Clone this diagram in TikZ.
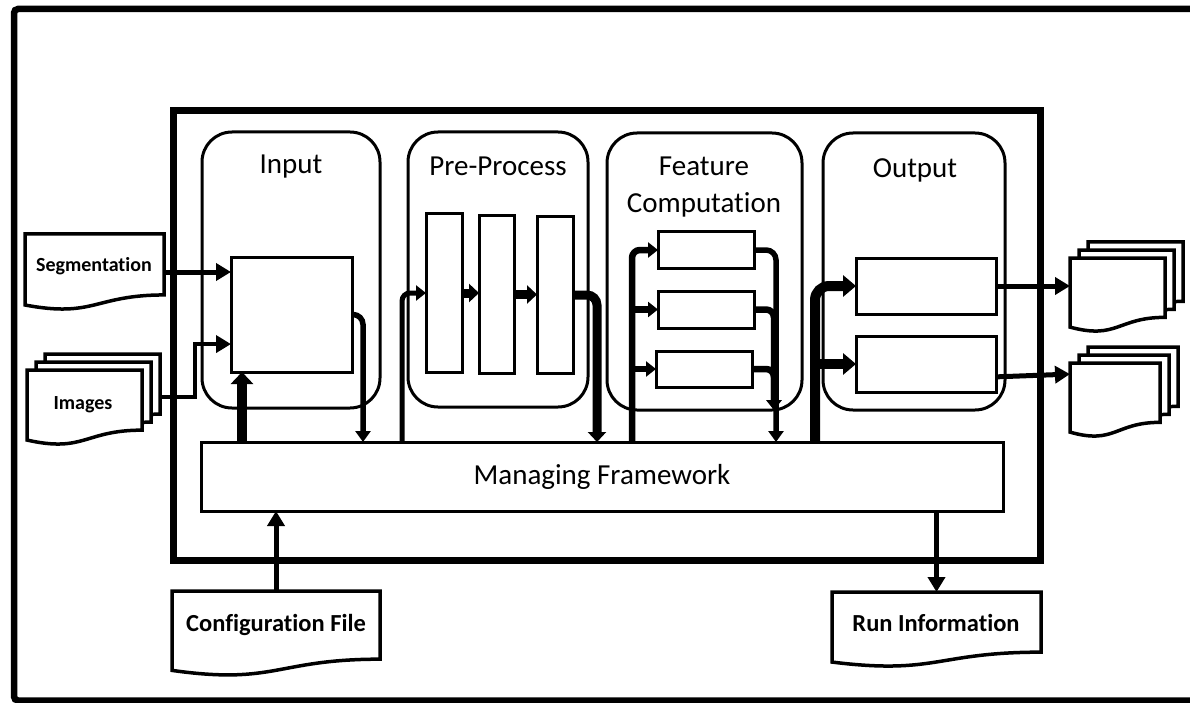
\documentclass[tikz,border=0pt]{standalone}
\usepackage{fontspec}
\setmainfont{Carlito}[Ligatures={NoCommon,NoRequired,NoContextual}]
\usetikzlibrary{arrows.meta,calc}
\newcommand\docshape[1]{%
  \path[docline] (#1.north west) -- (#1.north east)
    -- ($(#1.north east)!0.802!(#1.south east)$)
    .. controls ($(#1.north)!0.802!(#1.south)$) and ($(#1.north)!1.107!(#1.south)$)
    .. ($(#1.north west)!0.934!(#1.south west)$) -- cycle;}
\tikzset{
  stage/.style={draw, line width=3pt, rounded corners=30pt, anchor=north west, inner sep=0pt, outer sep=0pt},
  blk/.style={draw, line width=3pt, fill=white, anchor=north west, inner sep=0pt, outer sep=0pt},
  docbox/.style={anchor=north west, inner sep=0pt, outer sep=0pt},
  docline/.style={draw, line width=3.5pt, fill=white, line join=miter},
  title/.style={font=\fontsize{29}{37}\selectfont, align=center, inner sep=0pt},
  doctext/.style={font=\bfseries\fontsize{20}{24}\selectfont, inner sep=0pt},
  bigtext/.style={font=\bfseries\fontsize{24.5}{28}\selectfont, inner sep=0pt},
  arr/.style={line width=5pt, -{Triangle[length=15pt,width=17pt]}},
  arrmid/.style={line width=5.5pt, -{Triangle[length=11pt,width=15pt]}},
  arrsm/.style={line width=5pt, -{Triangle[length=10pt,width=15pt]}},
  arrthick/.style={line width=9pt, -{Triangle[length=10pt,width=18pt]}},
  arrfc/.style={line width=6.5pt, -{Triangle[length=10pt,width=15pt]}},
  arrbig/.style={line width=10pt, -{Triangle[length=13pt,width=21pt]}},
  bigup/.style={line width=10pt, -{Triangle[length=12pt,width=22pt]}},
}
\begin{document}
\begin{tikzpicture}[x=1pt,y=-1pt]
\useasboundingbox (0,0) rectangle (1190,703);
% outer frame (right side off the picture)
\draw[line width=6.5pt, rounded corners=4pt] (1200,9) -- (14,9) -- (14,700.5) -- (1200,700.5);
% system frame
\node[draw, line width=7pt, anchor=north west, inner sep=0pt, outer sep=0pt,
      minimum width=867pt, minimum height=449pt] (sys) at (173,111) {};
% stages
\node[stage, minimum width=178pt, minimum height=276pt] (inp) at (202,132) {};
\node[stage, minimum width=180pt, minimum height=275pt] (pre) at (408,132) {};
\node[stage, minimum width=195pt, minimum height=277pt] (fcs) at (607,133) {};
\node[stage, minimum width=182pt, minimum height=277pt] (outs) at (823,133) {};
\node[title] (tin) at (291,167) {Input};
\node[title] (tpre) at (498,166) {Pre-Process};
\node[title] (tfc) at (704,187) {Feature\\Computation};
\node[title] (tout) at (915,170) {Output};
% managing framework
\node[blk, minimum width=802pt, minimum height=69pt] (mf) at (201,442) {};
\node[title] (tmf) at (mf.center) {Managing Framework};
% inner blocks
\node[blk, minimum width=121pt, minimum height=115pt] (inbox) at (231,257) {};
\node[blk, minimum width=36pt, minimum height=158pt] (pp1) at (426,214) {};
\node[blk, minimum width=35pt, minimum height=157pt] (pp2) at (479,216) {};
\node[blk, minimum width=36pt, minimum height=156pt] (pp3) at (537,217) {};
\node[blk, minimum width=96pt, minimum height=36pt] (fc1) at (658,232) {};
\node[blk, minimum width=96pt, minimum height=37pt] (fc2) at (658,291) {};
\node[blk, minimum width=96pt, minimum height=36pt] (fc3) at (656,351) {};
\node[blk, minimum width=140pt, minimum height=56pt] (out1) at (856,258) {};
\node[blk, minimum width=140pt, minimum height=56pt] (out2) at (856,336) {};
% documents
\node[docbox, minimum width=139pt, minimum height=76pt] (seg) at (25,234) {};
\docshape{seg}
\node[doctext] (segt) at (94,266) {Segmentation};
\node[docbox, minimum width=115pt, minimum height=75pt] (img3) at (45,354) {};
\node[docbox, minimum width=115pt, minimum height=75pt] (img2) at (36,362) {};
\node[docbox, minimum width=115pt, minimum height=75pt] (img1) at (27,370) {};
\docshape{img3}\docshape{img2}\docshape{img1}
\node[doctext] (imgt) at (83,405) {Images};
\node[docbox, minimum width=95pt, minimum height=74pt] (od1c) at (1088,242) {};
\node[docbox, minimum width=95pt, minimum height=74pt] (od1b) at (1079,250) {};
\node[docbox, minimum width=95pt, minimum height=74pt] (od1a) at (1070,258) {};
\docshape{od1c}\docshape{od1b}\docshape{od1a}
\node[docbox, minimum width=90pt, minimum height=74pt] (od2c) at (1088,347) {};
\node[docbox, minimum width=90pt, minimum height=74pt] (od2b) at (1079,355) {};
\node[docbox, minimum width=90pt, minimum height=74pt] (od2a) at (1070,363) {};
\docshape{od2c}\docshape{od2b}\docshape{od2a}
\node[docbox, minimum width=208pt, minimum height=85pt] (cfg) at (172,591) {};
\docshape{cfg}
\node[bigtext] (cfgt) at (276,625) {Configuration File};
\node[docbox, minimum width=209pt, minimum height=75pt] (ri) at (832,592) {};
\docshape{ri}
\node[bigtext] (rit) at (936,623) {Run Information};
% connectors: input
\draw[arr] (seg.east) -- (seg.east -| inbox.west);
\coordinate (imgout) at ($(img3.north east)!0.573!(img3.south east)$);
\coordinate (inb2) at ($(inbox.north west)!0.757!(inbox.south west)$);
\draw[arr, line width=4.5pt] (imgout) -| ([xshift=-36pt]inb2) -- (inb2);
\coordinate (upb) at ([xshift=11pt]inbox.south west);
\draw[bigup] (upb |- mf.north) -- (upb);
\coordinate (inox) at ([xshift=11pt]inbox.east);
\draw[arrmid, rounded corners=10pt] (inbox.east) -| (inox |- mf.north);
% pre-process
\coordinate (ppix) at ([xshift=-24pt]pp1.west);
\draw[arrsm, rounded corners=8pt] (ppix |- mf.north) |- (pp1.west);
\draw[arrthick] (pp1.east) -- (pp1.east -| pp2.west);
\draw[arrthick] (pp2.east) -- (pp2.east -| pp3.west);
\coordinate (ppox) at ([xshift=24pt]pp3.east);
\draw[arrthick, rounded corners=10pt] (pp3.east) -| (ppox |- mf.north);
% feature computation
\coordinate (fcx) at ([xshift=-26pt]fc1.west);
\draw[arrfc, rounded corners=8pt] (fcx |- mf.north) |- (fc1.west);
\draw[arrfc] (fcx |- fc2.west) -- (fc2.west);
\draw[arrfc] (fcx |- fc3.west) -- (fc3.west);
\coordinate (fcox) at ([xshift=22pt]fc1.east);
\coordinate (fcend) at ([xshift=-2pt]fcox |- fcs.south);
\draw[arrfc, rounded corners=8pt] (fc2.east) -| (fcend);
\draw[arrfc, rounded corners=8pt] (fc3.east) -| (fcend);
\draw[arrmid, rounded corners=10pt] (fc1.east) -| (fcox |- mf.north);
% output
\coordinate (oix) at ([xshift=-41pt]out1.west);
\draw[arrbig, rounded corners=14pt] (oix |- mf.north) |- (out1.west);
\draw[arrbig] (oix |- out2.west) -- (out2.west);
\draw[arr] (out1.east) -- (out1.east -| od1a.west);
\draw[arr] ($(out2.north east)!0.73!(out2.south east)$) -- ($(od2a.north west)!0.15!(od2a.south west)$);
% configuration and run information
\draw[arr] (cfg.north) -- (cfg.north |- mf.south);
\draw[arr] (ri.north |- mf.south) -- (ri.north);
\end{tikzpicture}
\end{document}
